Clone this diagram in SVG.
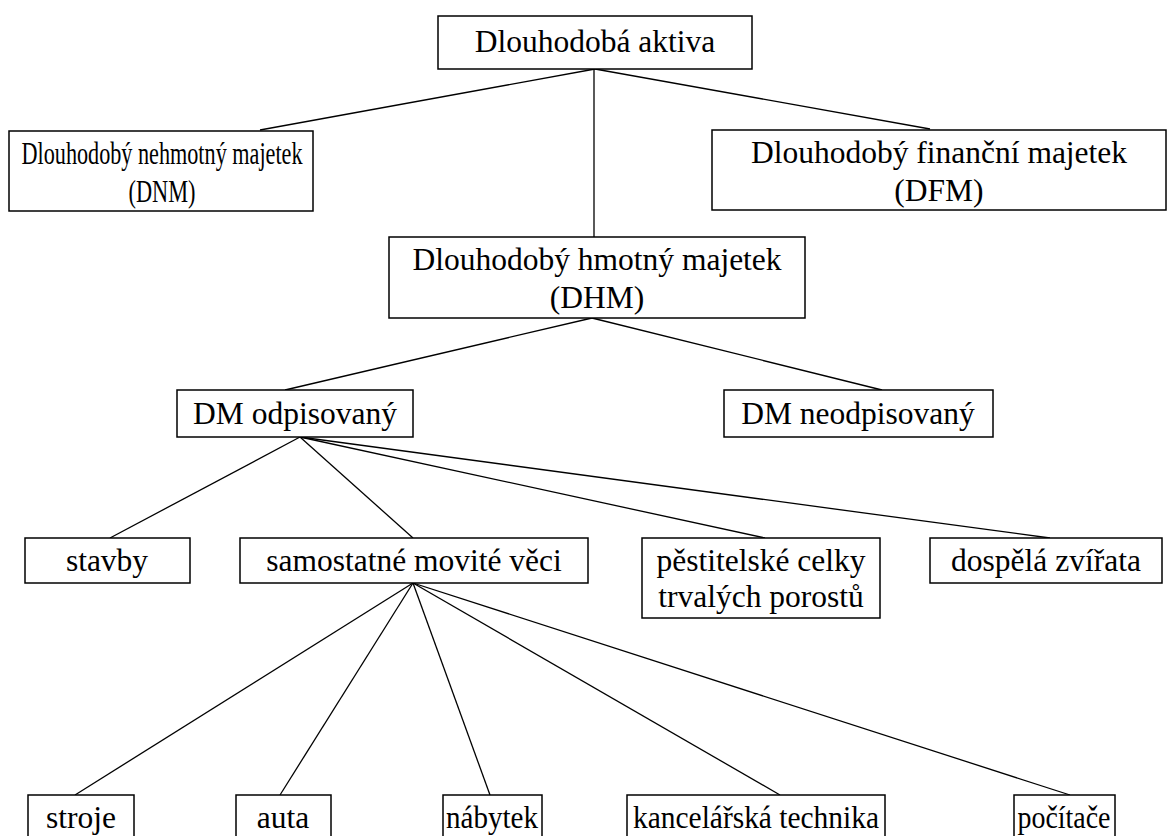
<svg xmlns="http://www.w3.org/2000/svg" width="1171" height="836" viewBox="0 0 1171 836">
<style>
rect{fill:#fff;stroke:#000;stroke-width:1.5}
line{stroke:#000;stroke-width:1.3}
text{font-family:"Liberation Serif","Times New Roman",serif;font-size:31.5px;fill:#000;text-anchor:middle}
</style>
<rect x="0" y="0" width="1171" height="836" style="stroke:none"/>
<g id="connectors">
<line x1="595" y1="69" x2="260" y2="130"/>
<line x1="595" y1="69" x2="930" y2="129"/>
<line x1="594" y1="69" x2="594" y2="237"/>
<line x1="592" y1="318" x2="285" y2="390"/>
<line x1="592" y1="318" x2="882" y2="390"/>
<line x1="300" y1="437" x2="110" y2="538"/>
<line x1="300" y1="437" x2="413" y2="538"/>
<line x1="300" y1="437" x2="765" y2="538"/>
<line x1="300" y1="437" x2="1050" y2="538"/>
<line x1="413" y1="583" x2="75" y2="795"/>
<line x1="413" y1="583" x2="280" y2="795"/>
<line x1="413" y1="583" x2="490" y2="795"/>
<line x1="413" y1="583" x2="780" y2="795"/>
<line x1="413" y1="583" x2="1070" y2="795"/>
</g>
<g id="n-da"><rect x="438" y="16" width="314" height="53"/><text x="595" y="52">Dlouhodobá aktiva</text></g>
<g id="n-dnm"><rect x="9" y="131" width="304" height="80"/><text x="162" y="164" textLength="281" lengthAdjust="spacingAndGlyphs">Dlouhodobý nehmotný majetek</text><text x="162" y="202" textLength="67" lengthAdjust="spacingAndGlyphs">(DNM)</text></g>
<g id="n-dfm"><rect x="712" y="130" width="454" height="80"/><text x="939" y="163">Dlouhodobý finanční majetek</text><text x="939" y="201">(DFM)</text></g>
<g id="n-dhm"><rect x="389" y="237" width="416" height="81"/><text x="597" y="270">Dlouhodobý hmotný majetek</text><text x="597" y="308">(DHM)</text></g>
<g id="n-dmo"><rect x="177" y="390" width="236" height="47"/><text x="295" y="424">DM odpisovaný</text></g>
<g id="n-dmn"><rect x="724" y="390" width="269" height="47"/><text x="858" y="424">DM neodpisovaný</text></g>
<g id="n-stavby"><rect x="25" y="538" width="165" height="45"/><text x="107" y="571">stavby</text></g>
<g id="n-smv"><rect x="240" y="538" width="348" height="45"/><text x="414" y="571">samostatné movité věci</text></g>
<g id="n-pc"><rect x="642" y="538" width="238" height="80"/><text x="761" y="571">pěstitelské celky</text><text x="761" y="607">trvalých porostů</text></g>
<g id="n-dz"><rect x="930" y="538" width="232" height="45"/><text x="1046" y="571">dospělá zvířata</text></g>
<g id="n-stroje"><rect x="28" y="795" width="106" height="60"/><text x="81" y="828">stroje</text></g>
<g id="n-auta"><rect x="236" y="795" width="95" height="60"/><text x="283" y="828">auta</text></g>
<g id="n-nabytek"><rect x="443" y="795" width="99" height="60"/><text x="492" y="828" textLength="92" lengthAdjust="spacingAndGlyphs">nábytek</text></g>
<g id="n-kt"><rect x="627" y="795" width="258" height="60"/><text x="756" y="828" textLength="246" lengthAdjust="spacingAndGlyphs">kancelářská technika</text></g>
<g id="n-pocitace"><rect x="1014" y="795" width="101" height="60"/><text x="1064" y="828" textLength="93" lengthAdjust="spacingAndGlyphs">počítače</text></g>
</svg>
